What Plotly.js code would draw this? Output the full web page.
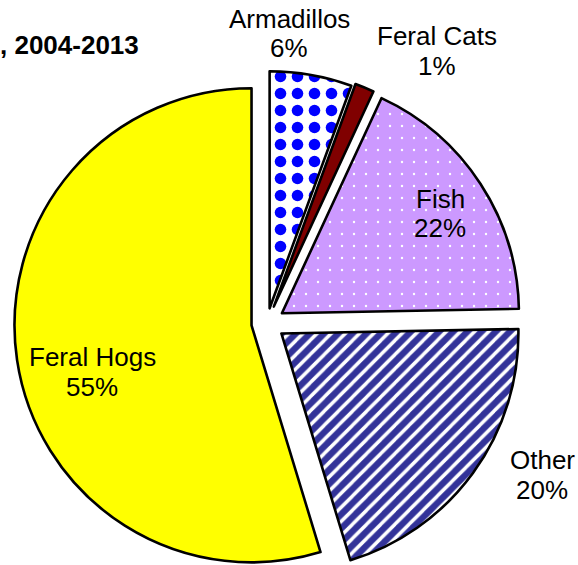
<!DOCTYPE html>
<html>
<head>
<meta charset="utf-8">
<script src="https://cdn.plot.ly/plotly-3.0.1.min.js"></script>
<style>
html, body { margin: 0; padding: 0; overflow: hidden; background: #ffffff; }
#chart { width: 578px; height: 646px; }
</style>
</head>
<body>
<div id="chart"></div>
<script>
// Data
const categories = ["Armadillos", "Feral Cats", "Fish", "Other", "Feral Hogs"];
const shares = [5.6, 1.3, 17.8, 20.6, 54.7];          // slice sizes as drawn
const printedPct = ["6%", "1%", "22%", "20%", "55%"];  // percentages as printed
const titleText = ", 2004-2013";

// Styles
const fillColors = ["#FFFFFF", "#800000", "#CC99FF", "#333399", "#FFFF00"];
const patternShapes = [".", "", ".", "/", ""];
const patternFg = ["#0000FF", "#800000", "#FFFFFF", "#FFFFFF", "#FFFF00"];
const patternBg = ["#FFFFFF", "#800000", "#CC99FF", "#333399", "#FFFF00"];
const patternSize = [17, 8, 12, 10, 8];
const patternSolidity = [0.36, 0.3, 0.03, 0.35, 0.3];
const pulls = [0.063, 0.075, 0.075, 0.075, 0.066];

// Label placement (pixel centres of the name line; percent line sits below)
const W = 578, H = 646;
const labelCentres = [[289, 19], [437, 36], [440, 199], [542, 460], [92, 357]];
const lineGap = 29.5;
const FONT = "Liberation Sans, Arial, sans-serif";

const trace = {
  type: "pie",
  labels: categories,
  values: shares,
  textinfo: "none",
  hoverinfo: "label+percent",
  sort: false,
  direction: "clockwise",
  rotation: 0,
  pull: pulls,
  automargin: false,
  marker: {
    colors: fillColors,
    line: { color: "#000000", width: 2.6 },
    pattern: {
      shape: patternShapes,
      fgcolor: patternFg,
      bgcolor: patternBg,
      size: patternSize,
      solidity: patternSolidity,
      fillmode: "replace"
    }
  },
  domain: { x: [0.0211, 0.9028], y: [0, 1] },
  showlegend: false
};

const annotations = [];
categories.forEach((c, i) => {
  const [px, py] = labelCentres[i];
  [c, printedPct[i]].forEach((t, k) => {
    annotations.push({
      text: t,
      xref: "paper", yref: "paper",
      x: px / W, y: 1 - (py + k * lineGap) / H,
      xanchor: "center", yanchor: "middle",
      showarrow: false,
      font: { family: FONT, size: 26, color: "#000000" }
    });
  });
});

const layout = {
  width: W,
  height: H,
  margin: { l: 0, r: 0, t: 0, b: 0, pad: 0 },
  paper_bgcolor: "#FFFFFF",
  plot_bgcolor: "#FFFFFF",
  showlegend: false,
  annotations: annotations,
  title: {
    text: "<b>" + titleText + "</b>",
    x: 0,
    xref: "container",
    xanchor: "left",
    y: 1 - 45 / H,
    yref: "container",
    yanchor: "middle",
    font: { family: FONT, size: 26, color: "#000000" }
  }
};

Plotly.newPlot("chart", [trace], layout, { displayModeBar: false, staticPlot: true });
</script>
</body>
</html>
